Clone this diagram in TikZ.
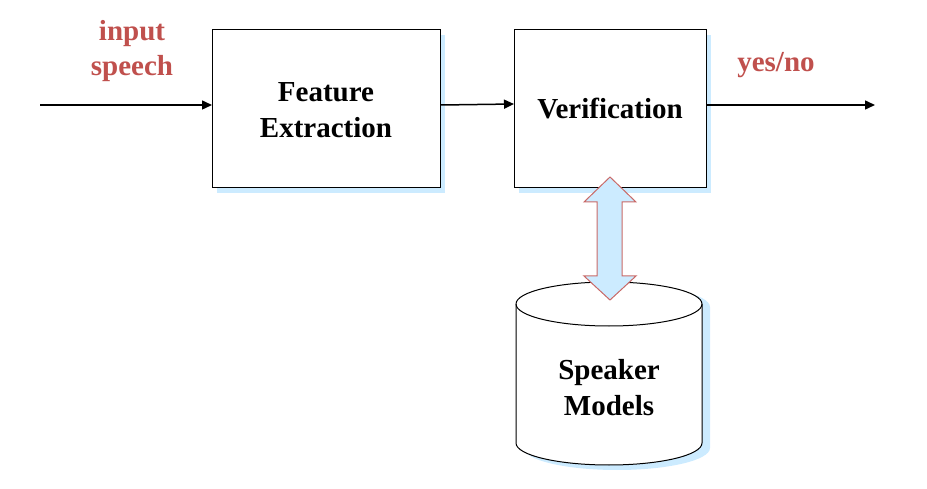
\documentclass[tikz,border=0pt]{standalone}
\usepackage{fontspec}
\setmainfont{Liberation Serif}
\usetikzlibrary{arrows.meta}
\definecolor{lbl}{HTML}{C0504D}
\definecolor{shadowblue}{HTML}{CCEBFF}
\begin{document}
\begin{tikzpicture}[x=1pt,y=-1pt,
  txt/.style={font=\fontsize{29}{36}\selectfont\bfseries, align=center, inner sep=0pt},
  lbltxt/.style={txt, text=lbl, font=\fontsize{29}{35}\selectfont\bfseries},
  blk/.style={draw=black, line width=1pt, fill=white, minimum width=228pt, minimum height=158pt, inner sep=0pt},
  flow/.style={line width=1.5pt, -{Triangle[length=10pt,width=9pt]}}]
\useasboundingbox (0,0) rectangle (927,489);
% shadows
\fill[shadowblue] (217,35) rectangle (445,193);
\fill[shadowblue] (519,35) rectangle (711,193);
% boxes
\node[blk, anchor=north west] (fe) at (212,29) {};
\node[txt] (fet) at (326,110) {Feature\\Extraction};
\node[blk, anchor=north west, minimum width=192pt] (ver) at (514,29) {};
\node[txt] (vert) at (610,109) {Verification};
% cylinder shadow
\fill[shadowblue] (524,307) -- (524,448) arc[start angle=180,end angle=0,x radius=93,y radius=22] -- (710,307) arc[start angle=0,end angle=-180,x radius=93,y radius=22] -- cycle;
% cylinder
\filldraw[fill=white, draw=black, line width=1pt] (516,304) -- (516,443) arc[start angle=180,end angle=0,x radius=93,y radius=22] -- (702,304) arc[start angle=0,end angle=-180,x radius=93,y radius=22] -- cycle;
\draw[line width=1pt] (516,304) arc[start angle=180,end angle=0,x radius=93,y radius=22];
\node[txt] (sm) at (609,388) {Speaker\\Models};
% double arrow
\filldraw[fill=shadowblue, draw=lbl!85, line width=1pt] (610,177) -- (636,202) -- (622,202) -- (622,276) -- (636,276) -- (610,300) -- (584,276) -- (597,276) -- (597,202) -- (584,202) -- cycle;
% connectors
\coordinate (in) at (40,105);
\coordinate (out) at (875,105);
\draw[flow] (in) -- (fe.west |- in);
\draw[flow] (fe.east |- in) -- (ver.west |- 0,104);
\draw[flow] (ver.east |- out) -- (out);
% labels
\node[lbltxt] (inl) at (132,51) {input\\speech};
\node[lbltxt] (yn) at (776,65) {yes/no};
\end{tikzpicture}
\end{document}
